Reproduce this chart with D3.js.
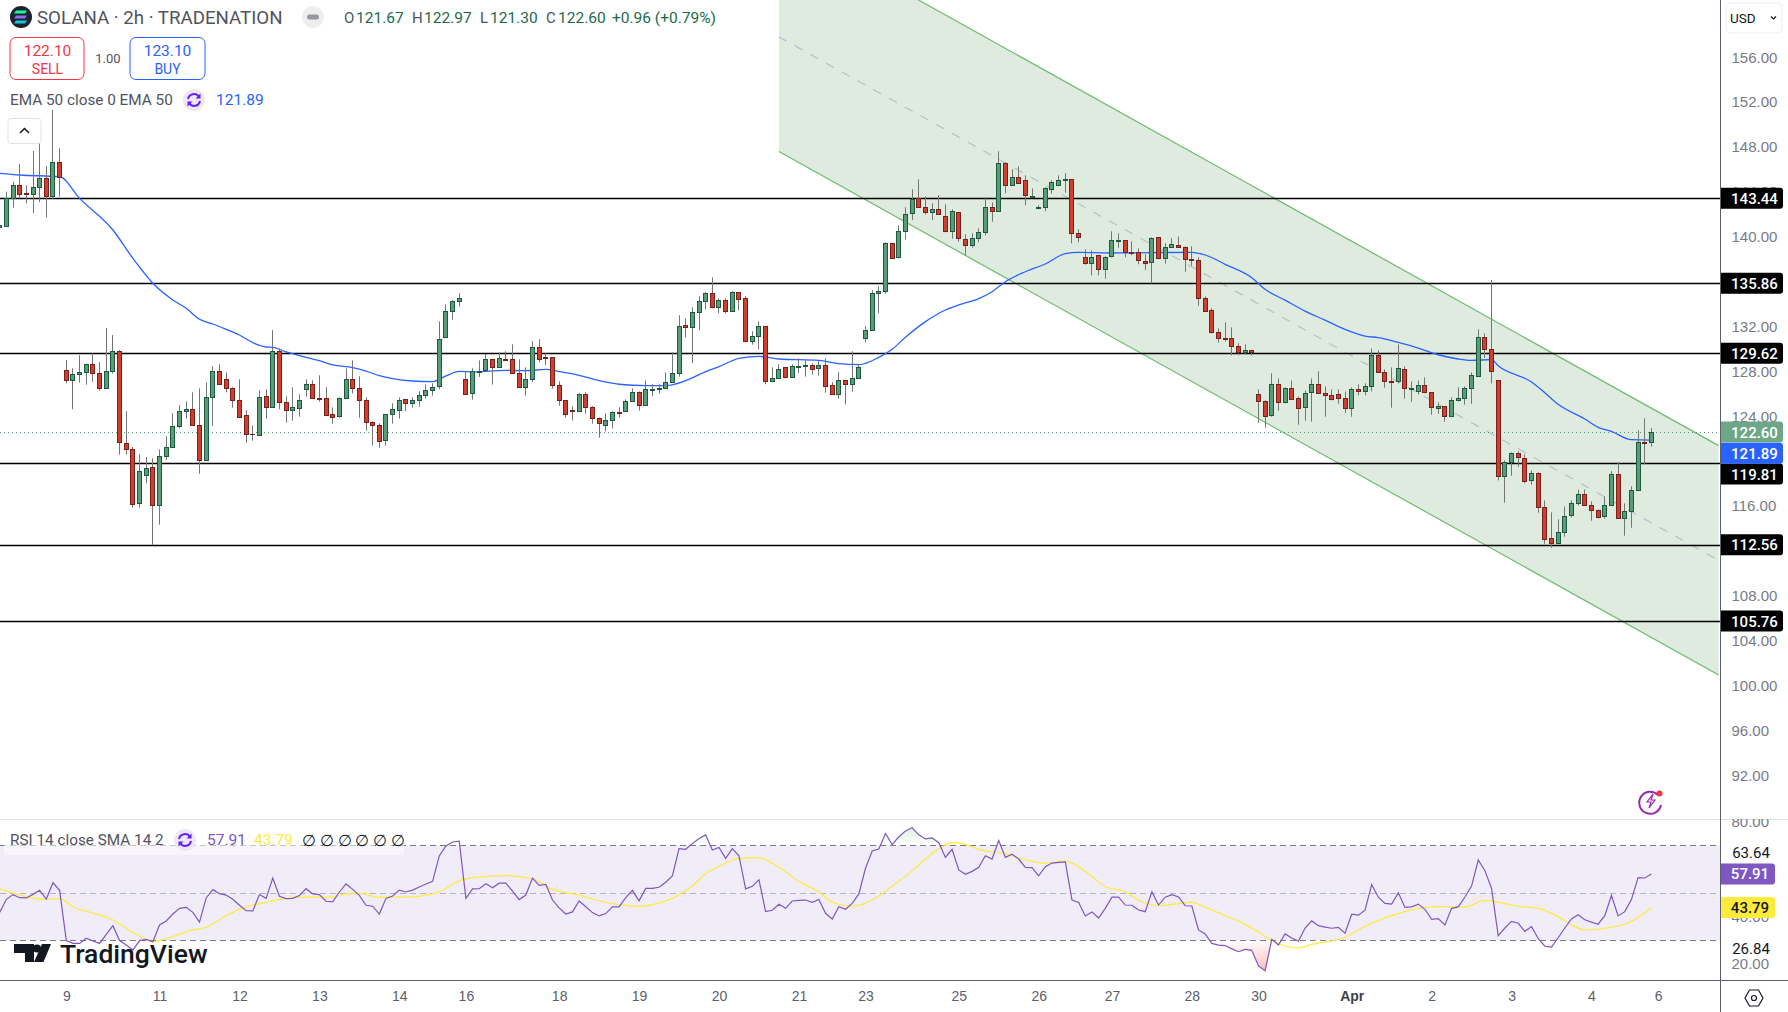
<!DOCTYPE html>
<html>
<head>
<meta charset="utf-8">
<script src="https://cdn.jsdelivr.net/npm/d3@7"></script>
<style>
  html, body { margin: 0; padding: 0; background: #fff; }
  svg { display: block; font-family: Roboto, "Liberation Sans", sans-serif; }
</style>
</head>
<body>
<svg id="grafico" width="1788" height="1012"></svg>
<script>
// candles, one per 2h bar
const opens = [140.91,141.0,143.43,144.59,143.9,143.85,144.41,145.21,143.67,146.64,
  128.10,127.21,127.74,127.92,128.64,127.83,126.50,128.01,129.79,121.59,121.06,116.25,118.74,119.46,116.07,120.44,121.30,123.11,124.45,124.63,
  123.20,120.14,125.69,128.01,127.30,126.50,125.43,124.09,122.42,122.31,125.78,124.80,129.79,125.25,124.54,124.71,126.41,126.85,125.61,125.61,
  124.18,124.00,125.61,127.30,126.50,125.43,123.47,123.20,121.86,124.18,124.54,125.52,125.16,125.43,125.87,126.32,126.68,131.04,133.36,134.25,
  127.30,126.05,127.95,128.10,129.09,128.37,129.09,129.09,127.84,126.59,127.30,130.15,129.26,129.26,126.77,125.43,124.54,124.45,125.97,124.81,
  123.83,123.26,123.65,124.36,124.45,125.34,126.14,124.98,126.38,126.47,126.50,127.04,127.84,132.12,131.94,133.27,134.25,134.97,133.72,134.34,
  133.36,135.06,134.52,130.69,131.14,132.03,127.12,127.39,128.37,127.48,128.43,128.52,128.55,128.28,128.55,126.77,125.97,127.21,126.86,127.39,
  130.96,131.67,134.97,135.14,139.42,138.17,140.49,142.09,143.43,142.63,142.18,142.45,141.83,140.49,142.18,139.78,139.24,139.87,140.40,142.63,
  142.27,146.55,144.59,145.30,145.04,143.58,142.60,142.63,144.23,144.59,145.04,145.12,140.31,138.17,137.64,138.35,137.10,138.26,139.66,139.69,
  138.62,138.62,137.82,137.73,139.95,138.08,139.06,139.24,139.06,138.02,137.90,134.52,133.45,131.49,130.95,130.95,130.24,129.70,129.88,125.96,
  125.33,124.08,126.85,125.24,126.49,125.60,124.80,126.14,126.85,126.05,125.87,125.96,125.60,124.71,126.40,126.22,126.67,129.43,127.92,127.12,
  127.12,128.19,126.46,126.22,126.76,126.14,124.71,124.89,124.00,125.42,125.60,126.49,127.56,131.04,129.97,127.20,118.65,119.90,120.70,120.25,
  118.29,118.92,115.88,113.12,112.68,113.66,115.17,116.24,117.04,116.06,115.62,115.08,116.06,118.83,114.90,115.53,117.40,121.68,121.67];
const highs = [142.10,144.03,144.92,146.49,144.59,147.65,148.33,146.31,151.31,147.89,
  129.02,128.28,129.44,128.70,129.62,128.84,131.87,131.25,129.91,124.45,121.27,120.64,120.35,120.26,121.06,122.25,124.27,124.98,125.34,126.14,
  126.50,127.03,128.46,128.64,127.92,126.59,127.30,124.54,123.20,126.32,126.41,131.70,130.06,125.78,126.59,125.96,127.30,127.21,127.66,126.59,
  124.80,125.69,128.28,128.99,127.57,125.69,123.56,123.38,124.18,125.16,125.69,125.52,125.69,126.23,126.85,126.94,132.47,133.98,134.37,134.96,
  127.92,128.28,128.99,129.56,129.09,129.71,129.80,130.42,129.09,128.37,130.69,130.87,129.62,129.26,127.12,125.43,124.90,126.05,126.14,124.90,
  123.89,124.27,124.45,124.81,125.52,126.50,126.23,127.21,126.86,126.86,127.93,129.71,133.01,132.74,133.72,134.70,135.06,136.39,134.52,134.52,
  135.15,135.06,134.70,131.58,132.47,132.03,128.37,128.64,128.37,128.64,129.17,128.99,128.73,128.91,129.17,127.04,127.93,127.21,129.80,128.64,
  132.03,135.24,135.59,139.51,139.45,141.02,142.63,144.23,145.12,143.61,142.99,143.70,142.90,142.45,142.18,140.22,140.31,140.76,143.52,143.07,
  147.62,146.64,146.02,146.28,145.48,144.32,142.81,144.41,145.04,145.48,145.66,145.12,140.67,138.89,138.80,138.35,138.26,140.49,140.31,139.69,
  139.60,138.97,138.44,139.95,139.95,139.42,139.87,140.04,139.15,139.15,138.17,134.70,133.63,131.84,132.38,131.93,130.51,130.42,129.88,126.40,
  125.42,127.83,127.38,126.58,127.20,125.78,126.31,127.38,128.01,126.67,126.40,126.40,126.22,126.58,126.85,126.94,130.06,129.88,128.19,128.36,
  130.41,128.45,127.12,127.20,127.47,126.14,125.24,124.89,125.69,126.58,126.67,127.92,131.75,131.39,136.15,127.20,120.07,120.79,120.88,120.61,
  119.18,119.01,116.51,115.44,114.82,115.97,116.51,117.46,117.49,116.42,115.71,116.87,119.12,119.90,116.24,117.76,122.75,123.82,122.97];
const lows = [140.17,140.91,142.60,143.43,142.99,142.10,143.08,141.71,143.37,143.58,
  126.94,124.63,127.00,126.82,127.09,126.29,126.45,127.83,120.58,120.61,115.86,115.86,118.03,112.53,114.35,120.11,121.28,122.93,123.79,123.20,
  118.89,120.05,123.14,126.85,126.14,124.77,123.91,121.65,121.83,122.31,123.79,124.80,124.63,123.44,123.61,123.97,125.75,125.58,125.31,124.09,
  123.35,123.88,125.61,126.05,123.88,122.72,121.39,121.21,121.39,123.35,123.79,124.45,124.77,124.86,125.58,125.84,126.41,131.04,132.62,133.78,
  125.96,125.49,127.51,128.01,126.83,128.37,128.97,127.78,126.59,125.85,127.04,128.82,128.55,126.47,124.96,123.89,123.62,124.42,124.24,123.35,
  122.10,122.67,122.91,123.89,124.42,125.34,124.51,124.98,125.79,126.02,126.41,127.04,127.54,131.02,128.73,131.67,133.54,133.72,133.19,133.19,
  133.36,133.45,130.60,130.39,129.98,126.86,127.12,127.39,127.39,127.48,127.84,127.54,127.72,127.63,126.11,125.97,125.58,125.07,126.20,127.39,
  130.60,131.67,133.19,134.93,138.05,138.08,139.75,141.50,142.63,141.98,141.50,142.00,140.40,139.84,139.57,138.35,139.03,139.51,140.13,141.35,
  142.27,143.88,144.59,144.77,142.81,143.58,142.45,142.27,143.85,144.59,143.94,139.42,139.51,137.52,136.57,136.57,136.27,138.17,139.03,138.17,
  138.35,137.55,137.04,135.85,137.99,137.61,139.06,139.06,136.89,137.43,133.86,133.33,131.40,130.57,130.66,129.44,129.44,129.53,129.44,123.43,
  122.99,123.97,124.50,125.15,125.51,123.25,123.61,123.52,126.05,123.97,125.42,125.12,124.32,123.97,125.87,125.87,126.22,127.92,126.55,124.77,
  126.94,125.57,125.30,125.96,126.05,124.14,124.23,123.52,123.97,125.33,125.04,125.12,127.53,129.20,126.94,118.29,116.30,118.71,119.51,118.02,
  117.91,115.41,112.65,112.29,112.68,113.27,115.00,116.06,116.06,114.70,114.90,114.88,116.06,114.90,113.36,114.07,117.40,119.72,121.30];
const closes = [141.06,143.43,144.59,143.85,143.85,144.41,145.21,143.67,146.64,145.30,
  127.21,127.74,127.92,128.64,127.83,126.50,128.01,129.79,121.68,121.06,116.16,119.10,119.37,116.07,120.44,121.30,123.11,124.45,124.63,123.20,
  120.14,125.69,128.01,126.85,126.50,125.43,123.91,122.40,122.40,125.69,124.80,129.79,125.25,124.54,124.80,125.43,126.85,125.61,125.52,124.09,
  123.91,125.61,127.30,126.50,125.43,123.47,123.20,121.77,124.18,124.63,125.43,125.16,125.43,125.87,126.32,126.59,130.86,133.36,134.25,134.58,
  126.02,128.01,128.01,129.08,128.37,129.17,129.06,127.84,126.59,127.30,130.15,129.09,129.23,126.77,125.43,124.18,124.45,125.97,124.81,123.83,
  123.38,123.65,124.36,124.33,125.34,126.14,124.98,126.41,126.44,126.53,127.04,127.84,132.03,132.00,133.27,134.25,134.97,133.72,134.34,133.36,
  135.06,134.43,130.69,131.14,132.03,127.12,127.39,128.19,127.48,128.46,128.46,128.55,128.19,128.55,126.68,125.97,127.21,126.86,127.39,128.37,
  131.67,134.97,135.15,139.42,138.08,140.49,142.00,143.34,142.63,142.18,142.45,142.00,140.49,142.27,139.87,139.24,139.87,140.40,142.63,142.27,
  146.55,144.59,145.30,144.77,143.70,143.64,142.66,144.32,144.86,145.04,145.12,140.31,139.95,137.64,138.17,137.10,138.17,139.69,139.69,138.62,
  138.59,137.90,137.64,139.87,138.08,139.06,139.33,139.06,137.99,137.96,134.52,133.36,131.49,130.95,130.92,130.24,129.70,129.88,129.70,125.33,
  124.00,126.85,125.24,126.49,125.51,124.71,126.05,126.85,126.05,125.87,125.51,125.60,124.71,126.40,126.22,126.67,129.43,127.92,127.12,127.09,
  128.27,126.49,126.49,126.76,126.14,124.80,124.89,124.00,125.42,125.60,126.49,127.65,131.04,129.97,128.01,118.65,119.90,120.70,120.34,118.20,
  118.92,115.88,113.03,112.68,113.66,115.08,116.24,117.04,116.06,115.62,114.99,116.06,118.83,114.90,115.53,117.40,121.68,121.65,122.60];

// EMA 50, read at these bars
const emaBars = [0,3,9,12,17,20,23,26,28,30,32,34,36,38,40,41,43,46,48,50,53,55,57,59,62,65,67,69,71,76,79,82,84,87,90,93,97,100,103,106,108,111,114,117,123,126,129,132,134,136,139,142,144,147,149,151,154,157,160,162,167,173,179,181,184,188,190,193,196,199,202,205,207,210,213,216,219,221,224,225,230,232,234,238,240,242,245,248];
const emaValues = [145.66,145.51,145.36,143.43,140.61,138.08,135.86,134.37,133.63,132.65,132.23,131.76,131.25,130.57,130.18,130.15,129.74,129.26,128.96,128.58,128.34,128.04,127.63,127.36,127.15,127.09,127.60,128.01,127.95,128.10,128.07,128.19,127.99,127.66,127.18,126.86,126.74,126.74,127.18,127.99,128.43,129.17,129.35,129.11,128.99,128.70,128.61,129.26,129.98,131.05,132.44,133.48,133.93,134.50,135.11,136.00,136.89,137.58,138.50,138.62,138.56,138.59,138.62,138.38,137.55,136.36,135.32,134.36,133.38,132.58,131.75,131.16,131.01,130.59,130.09,129.49,129.11,128.99,129.05,128.51,127.06,126.11,125.07,123.76,123.02,122.66,121.92,121.89];

// RSI 14, one value per bar
const rsiValues = [41.7,47.2,49.2,47.9,47.8,49.3,51.0,47.3,54.2,51.0,29.8,28.6,28.6,30.8,29.6,28.6,32.4,36.1,29.8,27.9,
  25.8,29.8,30.3,29.3,36.4,38.1,41.0,43.4,43.8,41.7,37.6,47.8,51.3,49.6,49.0,47.2,44.7,42.4,42.3,49.2,
  47.6,56.2,48.5,47.5,47.6,48.8,51.7,49.5,49.2,46.4,46.1,50.3,53.7,51.4,48.9,44.7,44.3,41.0,47.6,48.6,
  51.1,50.3,51.1,52.4,53.7,54.8,65.5,69.7,71.4,71.7,47.6,51.6,51.7,53.8,52.1,54.0,54.0,50.7,47.1,49.0,
  56.2,53.1,53.5,46.9,43.6,41.0,41.9,46.5,44.1,41.6,40.2,
  41.2,44.0,44.0,47.9,50.9,46.6,51.8,51.8,52.3,54.4,57.1,68.6,68.3,70.7,72.9,74.4,68.0,69.1,64.5,68.6,
  65.6,51.6,52.7,55.5,42.0,42.6,45.1,43.4,46.5,46.8,46.9,45.9,47.1,41.3,38.9,44.1,43.0,45.5,49.5,60.3,
  67.6,68.4,75.0,70.3,73.6,76.0,77.4,74.4,72.7,73.1,71.1,64.9,68.3,59.6,57.8,59.0,60.7,65.6,64.2,72.0,
  64.9,66.2,64.2,60.7,60.6,57.1,61.0,62.5,62.8,63.0,46.9,45.9,40.2,41.9,39.3,43.4,48.1,48.1,44.8,44.7,
  42.7,42.0,50.4,44.8,48.1,49.2,48.2,44.5,44.4,34.3,
  32.6,28.6,27.9,27.7,26.3,25.1,26.1,25.7,19.1,17.1,30.3,27.9,32.6,30.9,29.5,35.1,38.1,36.1,35.5,35.0,
  35.4,32.9,40.9,40.5,42.6,53.4,48.1,45.5,45.2,50.0,43.8,44.0,45.2,43.0,38.8,39.1,36.4,43.4,44.0,48.2,
  52.8,63.8,59.3,51.8,31.9,35.1,37.9,37.1,33.7,35.7,30.7,27.4,27.0,31.0,35.1,38.9,40.7,38.6,37.6,36.7,
  40.3,48.8,40.2,42.0,47.1,56.4,56.2,57.91];

// RSI moving average, read at these bars
const rsiMaBars = [0,5,7,9,11,14,17,20,23,26,29,31,34,37,40,42,46,50,52,54,57,61,65,67,69,71,76,80,83,87,90,93,96,98,101,104,106,108,111,114,117,120,123,125,128,131,134,137,139,141,143,145,147,151,154,157,160,162,164,166,169,171,174,176,179,180,182,184,186,189,191,193,195,197,202,204,206,210,213,216,220,223,226,228,231,234,236,238,241,244,245,248];
const rsiMaValues = [51.7,47.8,47.3,47.5,44.1,41.4,38.5,33.3,29.3,31.5,34.3,35.4,40.3,44.0,45.9,47.2,48.1,48.1,49.5,49.7,48.1,48.1,49.5,51.8,55.1,56.4,57.2,55.9,51.4,49.0,46.6,45.0,44.3,45.0,47.6,52.8,58.0,61.0,64.5,64.8,60.7,54.7,50.3,46.1,44.3,46.9,52.8,59.2,64.2,68.4,71.1,70.4,68.3,66.5,63.9,62.5,63.2,61.0,56.8,52.6,50.4,46.9,44.5,45.1,45.9,45.1,42.7,40.3,38.1,33.4,29.8,27.5,26.7,28.2,31.2,34.3,37.1,41.2,43.4,44.1,44.0,46.8,45.4,44.3,43.4,39.9,36.5,34.3,35.0,36.7,37.9,43.79];

// drawn levels and channel
const levels = [143.44,135.86,129.62,119.81,112.56,105.76];
const channelBars = [117,258.1];
const channelUpper = [168.04,121.39];
const channelLower = [147.60,100.95];

// axis labels, the ones fully under a price tag are left out
const priceTicks = [156,152,148,144,140,132,128,124,116,108,104,100,96,92];
const rsiTicks = [20,40,80];
const rsiBands = [70,50,30];
const timeBars = [10,24,36,48,60,70,84,96,108,120,130,144,156,167,179,189,203,215,227,239,249];
const timeLabels = ['9','11','12','13','14','16','18','19','20','21','23','25','26','27','28','30','Apr','2','3','4','6'];

const largura = 1788, altura = 1012;
const eixoDir = 1720.5, fimPreco = 818, fimRsi = 980;
const verdeVela = '#5a9c78', verdeBorda = '#1c5a3f', vermelhoVela = '#cf3f30', vermelhoBorda = '#7a1f1a';

const svg = d3.select('#grafico');
const defs = svg.append('defs');

const x = d3.scaleLinear().domain([0,248]).range([-0.3,1651.4]);
const y = d3.scaleLinear().domain([156,92]).range([57.3,775.4]);
const yRsi = d3.scaleLinear().domain([50,80]).range([892.7,821.6]);

defs.append('clipPath').attr('id','clipPreco').append('rect').attr('width',eixoDir).attr('height',fimPreco);
defs.append('clipPath').attr('id','clipRsi').append('rect').attr('y',fimPreco+1).attr('width',eixoDir).attr('height',fimRsi-fimPreco-1);
defs.append('clipPath').attr('id','clipRsiAlto').append('rect').attr('y',fimPreco).attr('width',eixoDir).attr('height',yRsi(70)-fimPreco);
defs.append('clipPath').attr('id','clipRsiBaixo').append('rect').attr('y',yRsi(30)).attr('width',eixoDir).attr('height',fimRsi-yRsi(30));
defs.append('clipPath').attr('id','clipEixoRsi').append('rect').attr('x',eixoDir).attr('y',fimPreco+1).attr('width',70).attr('height',fimRsi-fimPreco-1);
defs.append('clipPath').attr('id','clipEixoPreco').append('rect').attr('x',eixoDir).attr('y',35).attr('width',70).attr('height',fimPreco-35);

const gradAlto = defs.append('linearGradient').attr('id','gradAlto').attr('gradientUnits','userSpaceOnUse').attr('x1',0).attr('x2',0).attr('y1',yRsi(78)).attr('y2',yRsi(70));
gradAlto.append('stop').attr('offset','0%').attr('stop-color','#4caf50').attr('stop-opacity',0.2);
gradAlto.append('stop').attr('offset','100%').attr('stop-color','#4caf50').attr('stop-opacity',0);
const gradBaixo = defs.append('linearGradient').attr('id','gradBaixo').attr('gradientUnits','userSpaceOnUse').attr('x1',0).attr('x2',0).attr('y1',yRsi(30)).attr('y2',yRsi(17));
gradBaixo.append('stop').attr('offset','0%').attr('stop-color','#ff5252').attr('stop-opacity',0);
gradBaixo.append('stop').attr('offset','100%').attr('stop-color','#ff5252').attr('stop-opacity',0.4);

// price pane
const plotagem = svg.append('g').attr('clip-path','url(#clipPreco)');

plotagem.append('path')
  .attr('d', d3.area().x(d => x(d.b)).y0(d => y(d.u)).y1(d => y(d.l))(channelBars.map((b,i) => ({b, u: channelUpper[i], l: channelLower[i]}))))
  .attr('fill','#dfebdf');
[channelUpper, channelLower].forEach(serie => {
  plotagem.append('line')
    .attr('x1',x(channelBars[0])).attr('y1',y(serie[0]))
    .attr('x2',x(channelBars[1])).attr('y2',y(serie[1]))
    .attr('stroke','#6dba6d').attr('stroke-width',1.2);
});
plotagem.append('line')
  .attr('x1',x(channelBars[0])).attr('y1',y((channelUpper[0]+channelLower[0])/2))
  .attr('x2',x(channelBars[1])).attr('y2',y((channelUpper[1]+channelLower[1])/2))
  .attr('stroke','#b7bec6').attr('stroke-width',1.2).attr('stroke-dasharray','9 9');

plotagem.selectAll('.nivel').data(levels).enter().append('line')
  .attr('class','nivel')
  .attr('x1',0).attr('x2',eixoDir)
  .attr('y1',d => Math.round(y(d))+0.5).attr('y2',d => Math.round(y(d))+0.5)
  .attr('stroke','#000').attr('stroke-width',1.3);

plotagem.append('line')
  .attr('x1',0).attr('x2',eixoDir)
  .attr('y1',Math.round(y(122.6))+0.5).attr('y2',Math.round(y(122.6))+0.5)
  .attr('stroke','#4f9c7a').attr('stroke-width',1).attr('stroke-dasharray','1 3');

plotagem.append('path')
  .attr('d', d3.line().x(i => x(emaBars[i])).y(i => y(emaValues[i])).curve(d3.curveMonotoneX)(d3.range(emaBars.length)))
  .attr('fill','none').attr('stroke','#2962ff').attr('stroke-width',1.3);

const velas = plotagem.selectAll('.vela').data(closes).enter().append('g').attr('class','vela');
velas.append('line')
  .attr('x1',(d,i) => Math.floor(x(i))+0.5).attr('x2',(d,i) => Math.floor(x(i))+0.5)
  .attr('y1',(d,i) => y(highs[i])).attr('y2',(d,i) => y(lows[i]))
  .attr('stroke','#757575').attr('stroke-width',1);
velas.append('rect')
  .attr('x',(d,i) => Math.floor(x(i))-1.5)
  .attr('y',(d,i) => Math.round(y(Math.max(opens[i],closes[i])))+0.5)
  .attr('width',4)
  .attr('height',(d,i) => Math.max(0.01,Math.round(y(Math.min(opens[i],closes[i])))-Math.round(y(Math.max(opens[i],closes[i])))))
  .attr('fill',(d,i) => closes[i] >= opens[i] ? verdeVela : vermelhoVela)
  .attr('stroke',(d,i) => closes[i] >= opens[i] ? verdeBorda : vermelhoBorda)
  .attr('stroke-width',1);

// RSI pane
const rsiPane = svg.append('g').attr('clip-path','url(#clipRsi)');
rsiPane.append('rect')
  .attr('x',0).attr('width',eixoDir)
  .attr('y',yRsi(70)).attr('height',yRsi(30)-yRsi(70))
  .attr('fill','#f0ecf8');

const areaAlto = d3.area().x((d,i) => x(i)).y0(yRsi(70)).y1(d => yRsi(d));
const areaBaixo = d3.area().x((d,i) => x(i)).y0(yRsi(30)).y1(d => yRsi(d));
rsiPane.append('g').attr('clip-path','url(#clipRsiAlto)').append('path')
  .attr('d',areaAlto(rsiValues)).attr('fill','url(#gradAlto)');
rsiPane.append('g').attr('clip-path','url(#clipRsiBaixo)').append('path')
  .attr('d',areaBaixo(rsiValues)).attr('fill','url(#gradBaixo)');

rsiBands.forEach(b => {
  rsiPane.append('line')
    .attr('x1',0).attr('x2',eixoDir)
    .attr('y1',Math.round(yRsi(b))+0.5).attr('y2',Math.round(yRsi(b))+0.5)
    .attr('stroke', b === 50 ? '#b2b5be' : '#787b86').attr('stroke-dasharray','6 4');
});
rsiPane.append('path')
  .attr('d', d3.line().x(i => x(rsiMaBars[i])).y(i => yRsi(rsiMaValues[i])).curve(d3.curveMonotoneX)(d3.range(rsiMaBars.length)))
  .attr('fill','none').attr('stroke','#ffeb3b').attr('stroke-width',1.2);
rsiPane.append('path')
  .attr('d', d3.line().x((d,i) => x(i)).y(d => yRsi(d))(rsiValues))
  .attr('fill','none').attr('stroke','#7e57c2').attr('stroke-width',1.2);

// frame lines
svg.append('line').attr('x1',0).attr('x2',largura).attr('y1',fimPreco+1.5).attr('y2',fimPreco+1.5).attr('stroke','#e0e3eb');
svg.append('line').attr('x1',0).attr('x2',largura).attr('y1',fimRsi+0.5).attr('y2',fimRsi+0.5).attr('stroke','#5d606b');
svg.append('line').attr('x1',eixoDir).attr('x2',eixoDir).attr('y1',0).attr('y2',altura).attr('stroke','#5d606b');

// axes
const eixoPreco = svg.append('g').attr('clip-path','url(#clipEixoPreco)').append('g')
  .attr('transform',`translate(${eixoDir},0)`)
  .call(d3.axisRight(y).tickValues(priceTicks).tickSize(0).tickPadding(11).tickFormat(d => d.toFixed(2)));
eixoPreco.select('.domain').remove();
eixoPreco.selectAll('text').attr('fill','#787b86').style('font-size','15px');

const eixoRsi = svg.append('g').attr('clip-path','url(#clipEixoRsi)').append('g')
  .attr('transform',`translate(${eixoDir},0)`)
  .call(d3.axisRight(yRsi).tickValues(rsiTicks).tickSize(0).tickPadding(11).tickFormat(d => d.toFixed(2)));
eixoRsi.select('.domain').remove();
eixoRsi.selectAll('text').attr('fill','#787b86').style('font-size','15px');

const eixoTempo = svg.append('g')
  .attr('transform',`translate(0,${fimRsi})`)
  .call(d3.axisBottom(x).tickValues(timeBars).tickSize(0).tickPadding(11).tickFormat((d,i) => timeLabels[i]));
eixoTempo.select('.domain').remove();
eixoTempo.selectAll('text')
  .attr('fill',(d,i) => timeLabels[i] === 'Apr' ? '#3f4249' : '#5d606b')
  .style('font-weight',(d,i) => timeLabels[i] === 'Apr' ? 700 : 400)
  .style('font-size','14px');

// value tags on the right axis
function etiqueta(centro, texto, fundo, cor, tagLargura, textoX) {
  const g = svg.append('g');
  g.append('path')
    .attr('d',`M${eixoDir+0.5},${centro-10.5}h${tagLargura-3}a3,3 0 0 1 3,3v15a3,3 0 0 1 -3,3h-${tagLargura-3}z`)
    .attr('fill',fundo);
  g.append('text').attr('x',textoX).attr('y',centro+0.5)
    .attr('text-anchor','middle').attr('dominant-baseline','central')
    .attr('fill',cor).style('font-size','15px').style('font-weight',500)
    .text(texto);
}
levels.forEach(n => etiqueta(n === 119.81 ? 474 : y(n), n.toFixed(2), '#000', '#fff', 62, 1754.5));
etiqueta(y(122.6), '122.60', '#6ea688', '#fff', 62, 1754.5);
etiqueta(453.3, '121.89', '#2962ff', '#fff', 62, 1754.5);
etiqueta(yRsi(57.91), '57.91', '#7e57c2', '#fff', 54, 1750);
etiqueta(yRsi(43.79), '43.79', '#ffeb3b', '#131722', 54, 1750);

function rotulo(px, py, texto, cor, tam, anchor) {
  return svg.append('text').attr('x',px).attr('y',py)
    .attr('text-anchor',anchor || 'start').attr('dominant-baseline','central')
    .attr('fill',cor).style('font-size',(tam || 14)+'px').text(texto);
}
rotulo(1751,853,'63.64','#131722',15,'middle');
rotulo(1751,949,'26.84','#131722',15,'middle');

// USD box
svg.append('rect').attr('x',1726).attr('y',3).attr('width',56).attr('height',30).attr('rx',5)
  .attr('fill','#fff').attr('stroke','#eceef2');
rotulo(1730,18,'USD','#131722',13.5);
svg.append('path').attr('d','M1771,16.5l2.5,2.5l2.5,-2.5').attr('fill','none').attr('stroke','#131722').attr('stroke-width',1.2);

// header
svg.append('circle').attr('cx',21).attr('cy',17).attr('r',11).attr('fill','#1e222d');
[['#19fb9b',12],['#8f6bf0',17],['#19c8d8',22]].forEach(d => {
  svg.append('path').attr('d',`M${16},${d[1]-1.5}h11l-2,3h-11z`).attr('fill',d[0]);
});
rotulo(37,18,'SOLANA · 2h · TRADENATION','#50535e',18.7);
svg.append('circle').attr('cx',313).attr('cy',17).attr('r',11).attr('fill','#eeeeee');
svg.append('rect').attr('x',307).attr('y',14.5).attr('width',12).attr('height',5).attr('rx',2.5).attr('fill','#9598a1');

const ohlc = [['O',344,'121.67'],['H',412,'122.97'],['L',480,'121.30'],['C',546,'122.60']];
ohlc.forEach(d => {
  rotulo(d[1],18,d[0],'#50535e',15);
  rotulo(d[1]+(d[0] === 'L' ? 10 : 12),18,d[2],'#1b6b4b',15.5);
});
rotulo(612,18,'+0.96 (+0.79%)','#1b6b4b',15.5);

[[10,'122.10','SELL','#f23645'],[130,'123.10','BUY','#2962ff']].forEach(d => {
  svg.append('rect').attr('x',d[0]).attr('y',37.5).attr('width',d[3] === '#2962ff' ? 75 : 74).attr('height',42).attr('rx',6)
    .attr('fill','#fff').attr('stroke',d[3]);
  rotulo(d[0]+37.5,51,d[1],d[3],15.5,'middle');
  rotulo(d[0]+37.5,68.5,d[2],d[3],14,'middle');
});
rotulo(108,58,'1.00','#50535e',13,'middle');

rotulo(10,100,'EMA 50 close 0 EMA 50','#50535e',15.3);
function iconeSync(cx, cy) {
  svg.append('circle').attr('cx',cx).attr('cy',cy).attr('r',11).attr('fill','#ede7f6');
  svg.append('path')
    .attr('d',`M${cx-6},${cy-1}a6,6 0 0 1 11,-2M${cx+6},${cy+1}a6,6 0 0 1 -11,2`)
    .attr('fill','none').attr('stroke','#651fff').attr('stroke-width',2);
  svg.append('path').attr('d',`M${cx+6.5},${cy-6.5}v5h-5zM${cx-6.5},${cy+6.5}v-5h5z`).attr('fill','#651fff');
}
iconeSync(194,100);
rotulo(216,100,'121.89','#2962ff',15.5);

svg.append('rect').attr('x',8).attr('y',118.5).attr('width',33).attr('height',25).attr('rx',3)
  .attr('fill','#fff').attr('stroke','#e0e3eb');
svg.append('path').attr('d','M20,133l4.5,-4.5l4.5,4.5').attr('fill','none').attr('stroke','#131722').attr('stroke-width',1.5);

// RSI legend
svg.append('rect').attr('x',4).attr('y',830).attr('width',400).attr('height',25)
  .attr('fill','#fff').attr('fill-opacity',0.55);
rotulo(10,840,'RSI 14 close SMA 14 2','#50535e',15.3);
iconeSync(185,840);
rotulo(207,840,'57.91','#7e57c2',15.5);
rotulo(254,840,'43.79','#ffeb3b',15.5);
d3.range(6).forEach(k => rotulo(302+k*17.8,840,'∅','#131722',16));

// TradingView mark
svg.append('path').attr('d','M14,944h20v18h-9v-9h-11z').attr('fill','#131722');
svg.append('circle').attr('cx',37).attr('cy',948.5).attr('r',4).attr('fill','#131722');
svg.append('path').attr('d','M42,944h9l-7.5,18h-9.5z').attr('fill','#131722');
rotulo(60,953,'TradingView','#131722',26.5).style('font-weight',500);

// flash icon
svg.append('path').attr('d','M1658,795a11,11 0 1 0 3,10').attr('fill','none').attr('stroke','#9c27b0').attr('stroke-width',2);
svg.append('circle').attr('cx',1659.5).attr('cy',793.5).attr('r',3).attr('fill','#f23645');
svg.append('path').attr('d','M1653,794l-6,8h4l-2,6l6,-8h-4z').attr('fill','none').attr('stroke','#9c27b0').attr('stroke-width',1.2);

// settings icon
svg.append('path').attr('d','M1745,998l4.5,-8h9l4.5,8l-4.5,8h-9z').attr('fill','none').attr('stroke','#131722').attr('stroke-width',1.2);
svg.append('circle').attr('cx',1754).attr('cy',998).attr('r',2.5).attr('fill','none').attr('stroke','#131722').attr('stroke-width',1.2);
</script>
</body>
</html>
